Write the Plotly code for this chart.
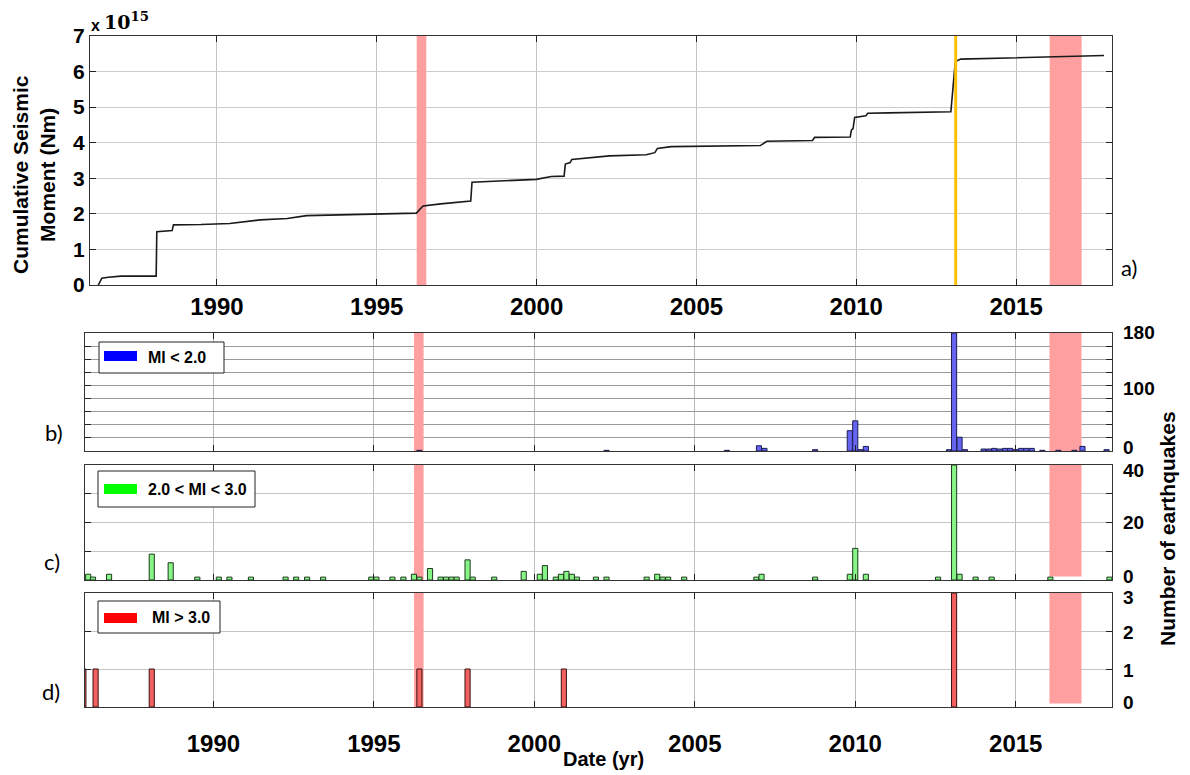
import plotly.graph_objects as go

# ---------------- data ----------------
# Cumulative seismic moment (units of 1e15 N m)
moment_year = [1986.29, 1986.40, 1986.60, 1987.00, 1988.10, 1988.12, 1988.60, 1988.64, 1989.50,
               1990.40, 1991.35, 1992.20, 1992.80, 1994.00, 1995.10, 1996.24, 1996.40, 1996.45,
               1997.00, 1997.50, 1997.94, 1997.98, 1999.00, 1999.57, 1999.99, 2000.46, 2000.86,
               2000.90, 2001.05, 2001.10, 2001.97, 2002.28, 2003.43, 2003.70, 2003.78, 2004.21,
               2007.00, 2007.10, 2007.20, 2008.63, 2008.70, 2009.81, 2009.85, 2009.90, 2009.95,
               2010.30, 2010.36, 2011.00, 2012.96, 2013.06, 2013.10, 2013.27, 2014.50, 2016.00,
               2017.75]
moment_value = [0.00, 0.19, 0.22, 0.25, 0.25, 1.50, 1.53, 1.69, 1.70,
                1.73, 1.83, 1.87, 1.95, 1.98, 2.00, 2.02, 2.18, 2.22,
                2.28, 2.32, 2.36, 2.89, 2.92, 2.94, 2.97, 3.05, 3.06,
                3.40, 3.44, 3.53, 3.59, 3.63, 3.66, 3.72, 3.84, 3.89,
                3.92, 3.97, 4.04, 4.06, 4.15, 4.16, 4.36, 4.40, 4.71,
                4.76, 4.83, 4.84, 4.87, 5.90, 6.28, 6.35, 6.38, 6.41,
                6.45]

# Ml < 2.0
b_year = [1996.42, 2002.25, 2006.00, 2007.00, 2007.17, 2008.75, 2009.83, 2010.00, 2010.17, 2010.33,
          2012.92, 2013.08, 2013.25, 2013.42, 2014.00, 2014.17, 2014.33, 2014.50, 2014.67,
          2014.83, 2015.00, 2015.17, 2015.33, 2015.50, 2015.83, 2016.33, 2016.83, 2017.08,
          2017.83]
b_count = [1, 1, 1, 8, 4, 2, 31, 46, 2, 7,
           2, 180, 21, 2, 3, 3, 4, 3, 4,
           4, 2, 4, 4, 4, 1, 1, 1, 7,
           2]

# 2.0 < Ml < 3.0
c_year = [1986.10, 1986.25, 1986.75, 1988.08, 1988.67, 1989.50, 1990.17, 1990.50, 1991.17,
          1992.25, 1992.58, 1992.92, 1993.42, 1994.92, 1995.08, 1995.58, 1995.92, 1996.25,
          1996.42, 1996.75, 1997.08, 1997.25, 1997.42, 1997.58, 1997.92, 1998.08, 1998.75,
          1999.67, 2000.17, 2000.33, 2000.67, 2000.83, 2001.00, 2001.17, 2001.33, 2001.92,
          2002.25, 2003.50, 2003.83, 2004.00, 2004.17, 2004.67, 2006.92, 2007.08, 2008.75,
          2009.83, 2010.00, 2010.33, 2012.58, 2013.08, 2013.25, 2013.75, 2014.25, 2016.08,
          2017.92]
c_count = [2, 1, 2, 9, 6, 1, 1, 1, 1,
           1, 1, 1, 1, 1, 1, 1, 1, 2,
           1, 4, 1, 1, 1, 1, 7, 1, 1,
           3, 2, 5, 1, 2, 3, 2, 1, 1,
           1, 1, 2, 1, 1, 1, 1, 2, 1,
           2, 11, 2, 1, 40, 2, 1, 1, 1,
           1]

# Ml > 3.0
d_year = [1985.95, 1986.33, 1988.08, 1996.42, 1997.92, 2000.92, 2013.08]
d_count = [1, 1, 1, 1, 1, 1, 3]

shade_start = [1996.25, 2016.05]
shade_end = [1996.55, 2017.05]
event_year = 2013.11
x_ticks = [1990, 1995, 2000, 2005, 2010, 2015]
b_labels = [0, 100, 180]
c_labels = [0, 20, 40]
d_labels = [0, 1, 2, 3]
legend_labels = ["Ml < 2.0", "2.0 < Ml < 3.0", "Ml > 3.0"]
panel_labels = ["a)", "b)", "c)", "d)"]

# ---------------- layout helpers ----------------
W, H = 1190, 775
OFF = 8          # page body margin in the browser
FONT = "Liberation Sans"
BAR_W = 0.16
SHADE = "#ff9f9f"


def px(x):
    return (x - OFF) / W


def py(y):
    return 1 - (y - OFF) / H


fig = go.Figure()

# shaded periods (drawn first so everything else sits on top)
panel_axes = [("x", "y", 7), ("x2", "y2", 180), ("x3", "y3", 40), ("x4", "y4", 3)]
shade_mid = [(a + b) / 2 for a, b in zip(shade_start, shade_end)]
shade_w = [b - a for a, b in zip(shade_start, shade_end)]
for i, (xa, ya, top) in enumerate(panel_axes):
    lift = 0.03 * top if i >= 2 else 0.0
    bases = [0.0, lift]
    fig.add_trace(go.Bar(x=shade_mid, y=[top - b for b in bases], base=bases, width=shade_w,
                         marker=dict(color=SHADE, line=dict(width=0)),
                         xaxis=xa, yaxis=ya, showlegend=False, hoverinfo="skip"))

fig.add_trace(go.Scatter(x=moment_year, y=moment_value, mode="lines",
                         line=dict(color="#1a1a1a", width=1.6),
                         xaxis="x", yaxis="y", showlegend=False))
fig.add_trace(go.Bar(x=b_year, y=b_count, width=BAR_W,
                     marker=dict(color="#6565f2", line=dict(color="#1c1c50", width=1)),
                     xaxis="x2", yaxis="y2", showlegend=False))
fig.add_trace(go.Bar(x=c_year, y=c_count, width=BAR_W,
                     marker=dict(color="#86f586", line=dict(color="#1e3a1e", width=1)),
                     xaxis="x3", yaxis="y3", showlegend=False))
fig.add_trace(go.Bar(x=d_year, y=d_count, width=BAR_W,
                     marker=dict(color="#f26060", line=dict(color="#3a1010", width=1)),
                     xaxis="x4", yaxis="y4", showlegend=False))

common_x = dict(tickvals=x_ticks, ticks="inside", ticklen=6, tickcolor="#222",
                showline=True, linecolor="#333", linewidth=1, mirror="ticks",
                showgrid=True, gridwidth=1, zeroline=False, automargin=False,
                tickfont=dict(family=FONT, size=24, color="black", weight="bold"))
common_y = dict(ticks="inside", ticklen=6, tickcolor="#222",
                showline=True, linecolor="#333", linewidth=1, mirror="ticks",
                showgrid=True, gridwidth=1, zeroline=False, automargin=False,
                tickfont=dict(family=FONT, size=21, color="black", weight="bold"))

lower_x = [px(85), px(1112)]

fig.update_layout(
    width=W, height=H,
    margin=dict(l=0, r=0, t=0, b=0, autoexpand=False),
    paper_bgcolor="white", plot_bgcolor="white",
    showlegend=False, barmode="overlay",
    xaxis=dict(common_x, domain=[px(90), px(1112)], range=[1986.03, 2018.0], anchor="y",
               gridcolor="#c4c4c4", ticklabelstandoff=0),
    yaxis=dict(common_y, domain=[py(285), py(36)], range=[0, 7], dtick=1, anchor="x",
               gridcolor="#cdcdcd", side="left"),
    xaxis2=dict(common_x, domain=lower_x, range=[1986.0, 2018.0], anchor="y2",
                showticklabels=False, gridcolor="#b8b8b8"),
    yaxis2=dict(common_y, domain=[py(451), py(333)], range=[0, 180], anchor="x2", side="right",
                tickvals=list(range(0, 181, 20)), showticklabels=False,
                gridcolor="#9a9a9a"),
    xaxis3=dict(common_x, domain=lower_x, range=[1986.0, 2018.0], anchor="y3",
                showticklabels=False, gridcolor="#bcbcbc"),
    yaxis3=dict(common_y, domain=[py(580), py(465)], range=[0, 40], anchor="x3", side="right",
                tickvals=[0, 10, 20, 30, 40], showticklabels=False,
                gridcolor="#c4c4c4"),
    xaxis4=dict(common_x, domain=lower_x, range=[1986.0, 2018.0], anchor="y4",
                gridcolor="#bcbcbc", ticklabelstandoff=15),
    yaxis4=dict(common_y, domain=[py(707), py(593)], range=[0, 3], anchor="x4", side="right",
                tickvals=[0, 1, 2, 3], showticklabels=False, gridcolor="#c4c4c4"),
)

shapes = []
# event line
shapes.append(dict(type="line", xref="x", yref="y domain", x0=event_year, x1=event_year,
                   y0=0, y1=1, line=dict(color="#ffc000", width=3), layer="above"))

# custom legends
legend_boxes = [(99, 224, 342, 373, 351, 361, "#0000ff"),
                (98, 255, 471, 507, 484, 494, "#00ff00"),
                (98, 220, 601, 633, 613, 623, "#ff0000")]
annotations = []
for (x0, x1, y0, y1, sy0, sy1, col), lab in zip(legend_boxes, legend_labels):
    shapes.append(dict(type="rect", xref="paper", yref="paper",
                       x0=px(x0), x1=px(x1), y0=py(y1), y1=py(y0),
                       fillcolor="white", line=dict(color="#222", width=1), layer="above"))
    shapes.append(dict(type="rect", xref="paper", yref="paper",
                       x0=px(104), x1=px(137), y0=py(sy1), y1=py(sy0),
                       fillcolor=col, line=dict(width=0), layer="above"))
    annotations.append(dict(xref="paper", yref="paper", x=px(146 if lab != "Ml > 3.0" else 150),
                            y=py((y0 + y1) / 2), text=lab, showarrow=False,
                            xanchor="left", yanchor="middle",
                            font=dict(family=FONT, size=16, color="black", weight="bold")))

fig.update_layout(shapes=shapes)

# right-hand count labels (nudged inward like the original)
right_font = dict(family=FONT, size=19, color="black", weight="bold")
for yref, vals, shifts in [("y2", b_labels, [4, -3, 1]),
                           ("y3", c_labels, [4, 0, -5]),
                           ("y4", d_labels, [5, -1, -1, -4])]:
    for v, s in zip(vals, shifts):
        annotations.append(dict(xref="paper", yref=yref, x=px(1121), y=v, yshift=s,
                                text=str(v), showarrow=False, xanchor="left",
                                yanchor="middle", font=right_font))

# titles / labels
annotations += [
    dict(xref="paper", yref="paper", x=px(34), y=py(175), text="Cumulative Seismic<br>Moment (Nm)",
         textangle=-90, showarrow=False, xanchor="center", yanchor="middle",
         font=dict(family=FONT, size=21, color="black", weight="bold")),
    dict(xref="paper", yref="paper", x=px(89), y=py(26), text="x", showarrow=False,
         xanchor="left", yanchor="middle",
         font=dict(family=FONT, size=16, color="black", weight="bold")),
    dict(xref="paper", yref="paper", x=px(102), y=py(21), text="10<sup>15</sup>", showarrow=False,
         xanchor="left", yanchor="middle",
         font=dict(family="DejaVu Serif", size=19, color="black", weight="bold")),
    dict(xref="paper", yref="paper", x=px(1167), y=py(529), text="Number of earthquakes",
         textangle=-90, showarrow=False, xanchor="center", yanchor="middle",
         font=dict(family=FONT, size=21, color="black", weight="bold")),
    dict(xref="paper", yref="paper", x=px(603), y=py(759), text="Date (yr)", showarrow=False,
         xanchor="center", yanchor="middle",
         font=dict(family=FONT, size=20, color="black", weight="bold")),
]
for lab, (lx, ly) in zip(panel_labels, [(1129, 267), (54, 432), (52, 561), (51, 691)]):
    annotations.append(dict(xref="paper", yref="paper", x=px(lx), y=py(ly), text=lab,
                            showarrow=False, xanchor="center", yanchor="middle",
                            font=dict(family="Lato", size=22, color="black")))

fig.update_layout(annotations=annotations)

fig.write_html("out.html")
